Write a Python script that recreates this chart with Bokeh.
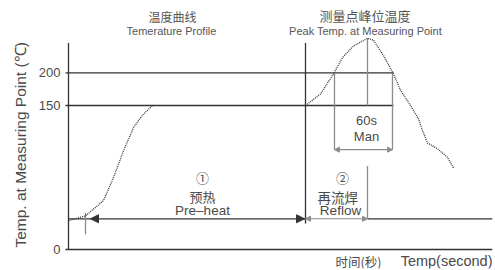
import math
from bokeh.plotting import figure
from bokeh.models import Range1d, Arrow, NormalHead, Label
from bokeh.embed import file_html
from bokeh.resources import INLINE

# ---- data (schematic units: time from axis, temperature-like scale) ----
y_tick_pos = [0, 150, 184]
y_tick_labels = ["0", "150", "200"]

preheat_t = [0, 17, 35, 45, 55, 65, 74, 84]
preheat_temp = [30, 35, 51, 75, 103, 127, 140, 150]

reflow_t = [237, 252, 265, 274, 285, 299, 305, 315, 325, 332, 342, 350, 354, 359, 369, 379, 385]
reflow_temp = [150, 162, 183, 200, 212, 220, 218, 202, 183, 166, 150, 136, 124, 111, 105, 96, 85]

t_end = 424
axis_top = 215
base_level = 32
t_preheat_mark = 17
t_reflow_start = 237
t_peak = 299
t_man = [266, 324]
man_level = 104
level_150 = 150
level_200 = 184
peak_level = 220
reflow_mark_top = 87

dark_x0 = [0, 0, 0, 0, t_reflow_start, 0, t_peak]
dark_y0 = [0, 0, level_200, level_150, 27, base_level, base_level]
dark_x1 = [0, t_end, 325, 325, t_reflow_start, t_reflow_start, t_end]
dark_y1 = [axis_top, 0, level_200, level_150, axis_top, base_level, base_level]

gray_x0 = [t_man[0], t_peak, t_man[1], t_peak, t_preheat_mark]
gray_y0 = [man_level, level_150, man_level, base_level, 16]
gray_x1 = [t_man[0], t_peak, t_man[1], t_peak, t_preheat_mark]
gray_y1 = [level_200, peak_level, level_200, reflow_mark_top, 38]

DARK = "#333333"
GRAY = "#8c8c8c"
TXT = "#4a4a4a"
EN = "Liberation Sans"
CN = "Noto Sans CJK SC"

p = figure(width=495, height=270, x_range=Range1d(-68, t_end), y_range=Range1d(-19.8, 259.4),
           output_backend="svg", toolbar_location=None, x_axis_location=None, y_axis_location=None,
           min_border_left=0, min_border_right=3, min_border_top=0, min_border_bottom=2)
p.grid.visible = False
p.outline_line_color = None
p.background_fill_color = "white"

# axis lines and frame lines
p.segment(x0=dark_x0, y0=dark_y0, x1=dark_x1, y1=dark_y1, line_color=DARK, line_width=1.3)
p.segment(x0=gray_x0, y0=gray_y0, x1=gray_x1, y1=gray_y1, line_color=GRAY, line_width=1.3)

# y ticks
p.segment(x0=[-3] * len(y_tick_pos), y0=y_tick_pos, x1=[0] * len(y_tick_pos), y1=y_tick_pos,
          line_color=DARK, line_width=1.3)

p.line(preheat_t, preheat_temp, line_color="#383838", line_width=1.3, line_dash="1 1")
p.line(reflow_t, reflow_temp, line_color="#383838", line_width=1.3, line_dash="1 1")

# dimension arrows
p.add_layout(Arrow(x_start=60, y_start=base_level, x_end=22, y_end=base_level, line_alpha=0,
                   end=NormalHead(size=8, fill_color=DARK, line_color=DARK)))
p.add_layout(Arrow(x_start=200, y_start=base_level, x_end=t_reflow_start - 1, y_end=base_level, line_alpha=0,
                   end=NormalHead(size=8, fill_color=DARK, line_color=DARK)))
p.add_layout(Arrow(x_start=t_reflow_start, y_start=base_level, x_end=t_peak, y_end=base_level,
                   line_color=GRAY, line_width=1,
                   start=NormalHead(size=5, fill_color=GRAY, line_color=GRAY),
                   end=NormalHead(size=5, fill_color=GRAY, line_color=GRAY)))
p.add_layout(Arrow(x_start=t_man[0], y_start=man_level, x_end=t_man[1], y_end=man_level,
                   line_color=GRAY, line_width=1.2,
                   start=NormalHead(size=5, fill_color=GRAY, line_color=GRAY),
                   end=NormalHead(size=5, fill_color=GRAY, line_color=GRAY)))

def lab(x, y, text, size, font=EN, align="center", color=TXT, **kw):
    p.add_layout(Label(x=x, y=y, text=text, text_align=align, text_baseline="middle",
                       text_font=font, text_font_size=size, text_color=color, **kw))

for pos, txt in zip(y_tick_pos, y_tick_labels):
    lab(-8, pos, txt, "13px", align="right")

# y-axis title (rotated, reading upward from its start)
lab(-48, 2, "Temp. at Measuring Point (℃)", "15.5px", align="left", angle=math.pi / 2)

lab(80, 243, "温度曲线", "12px", CN, align="left", color="#555555")
lab(103, 228, "Temerature Profile", "11px", color="#555555")
lab(251, 244, "测量点峰位温度", "13px", CN, align="left", color="#555555")
lab(297, 228, "Peak Temp. at Measuring Point", "11px", color="#555555")

lab(298, 134, "60s", "13px")
lab(298, 118, "Man", "13px")

lab(134, 75, "①", "13px", CN)
lab(121, 55, "预热", "13px", CN, align="left")
lab(134, 41, "Pre–heat", "13.5px")

lab(274, 75, "②", "13px", CN)
lab(249, 55, "再流焊", "13.5px", CN, align="left")
lab(272, 41, "Reflow", "13.5px")

lab(267, -12, "时间(秒)", "12.5px", CN, align="left")
lab(t_end, -12, "Temp(second)", "14.5px", EN, align="right")

open("out.html", "w").write(file_html(p, INLINE))
